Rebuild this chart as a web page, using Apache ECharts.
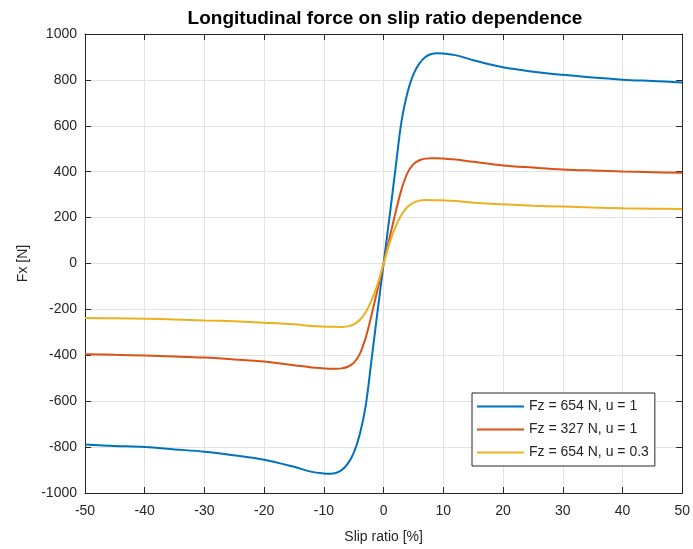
<!DOCTYPE html>
<html>
<head>
<meta charset="utf-8">
<script src="https://cdn.jsdelivr.net/npm/echarts@6/dist/echarts.min.js"></script>
<style>
  html, body { margin: 0; padding: 0; background: #fff; overflow: hidden; }
  #chart { width: 693px; height: 549px; }
</style>
</head>
<body>
<div id="chart"></div>
<script>
// Slip ratio samples [%]
const slip = [-50, -45, -40, -35, -30, -25, -20, -15, -12, -10, -9, -8, -7, -6, -5, -4, -3, -2, -1,
  0, 1, 2, 3, 4, 5, 6, 7, 8, 9, 10, 12, 15, 20, 25, 30, 35, 40, 45, 50];

// Longitudinal force Fx [N] for each load / friction case
const fxFz654u1 = [-789, -795, -800, -810, -820, -836, -855, -886, -908, -915, -916, -913, -900, -872, -825, -745, -620, -415, -205,
  0, 205, 415, 620, 745, 825, 872, 900, 913, 916, 915, 908, 886, 855, 836, 822, 810, 801, 795, 789];
const fxFz327u1 = [-395, -398, -401, -405, -410, -418, -427, -443, -453, -457, -459, -459, -457, -450, -433, -395, -323, -222, -112,
  0, 112, 222, 323, 395, 433, 450, 457, 459, 459, 457, 453, 443, 427, 418, 410, 405, 401, 398, 395];
const fxFz654u03 = [-237, -239, -241, -244, -248, -252, -258, -265, -272, -275, -276, -276, -277, -274, -265, -246, -212, -160, -90,
  0, 90, 160, 212, 246, 265, 274, 277, 276, 276, 275, 272, 265, 258, 252, 248, 244, 241, 239, 237];

const seriesNames = ['Fz = 654 N, u = 1', 'Fz = 327 N, u = 1', 'Fz = 654 N, u = 0.3'];
const seriesColors = ['#0072BD', '#D95319', '#EDB120'];
const seriesValues = [fxFz654u1, fxFz327u1, fxFz654u03];

const xTicks = { min: -50, max: 50, interval: 10 };
const yTicks = { min: -1000, max: 1000, interval: 200 };

const axisColor = '#262626';
const gridColor = '#e3e3e3';
const font = '"Liberation Sans", Arial, Helvetica, sans-serif';

function pairs(values) {
  return slip.map((s, i) => [s, values[i]]);
}

function baseAxis(extra) {
  return Object.assign({
    type: 'value',
    axisLine: { show: true, onZero: false, lineStyle: { color: axisColor, width: 1 } },
    axisTick: { show: true, inside: true, length: 6, lineStyle: { color: axisColor } },
    splitLine: { show: false },
    axisLabel: { show: false }
  }, extra);
}

const chart = echarts.init(document.getElementById('chart'), null, { renderer: 'canvas' });

chart.setOption({
  animation: false,
  backgroundColor: '#ffffff',
  title: {
    text: 'Longitudinal force on slip ratio dependence',
    left: 385,
    textAlign: 'center',
    top: 9,
    padding: 0,
    textStyle: { fontFamily: font, fontSize: 19, fontWeight: 'bold', color: '#000' }
  },
  grid: { left: 85, right: 8, top: 34, bottom: 53, containLabel: false },
  legend: {
    orient: 'vertical',
    left: 472,
    top: 393,
    padding: [6, 6, 6, 5],
    itemWidth: 47,
    itemHeight: 2,
    itemGap: 8,
    icon: 'rect',
    backgroundColor: '#ffffff',
    borderColor: axisColor,
    borderWidth: 1,
    borderRadius: 0,
    textStyle: { fontFamily: font, fontSize: 14, color: axisColor, lineHeight: 15 },
    data: seriesNames
  },
  xAxis: [
    baseAxis({
      min: xTicks.min, max: xTicks.max, interval: xTicks.interval,
      position: 'bottom',
      name: 'Slip ratio [%]',
      nameLocation: 'middle',
      nameGap: 37,
      nameTextStyle: { fontFamily: font, fontSize: 14, color: axisColor },
      splitLine: { show: true, lineStyle: { color: gridColor, width: 1 } },
      axisLabel: { show: true, fontFamily: font, fontSize: 14, color: axisColor, margin: 11,
        formatter: v => String(v) }
    }),
    baseAxis({ min: xTicks.min, max: xTicks.max, interval: xTicks.interval, position: 'top' })
  ],
  yAxis: [
    baseAxis({
      min: yTicks.min, max: yTicks.max, interval: yTicks.interval,
      position: 'left',
      name: 'Fx [N]',
      nameLocation: 'middle',
      nameGap: 50,
      nameTextStyle: { fontFamily: font, fontSize: 14, color: axisColor },
      splitLine: { show: true, lineStyle: { color: gridColor, width: 1 } },
      axisLabel: { show: true, fontFamily: font, fontSize: 14, color: axisColor, margin: 8,
        formatter: v => String(v) }
    }),
    baseAxis({ min: yTicks.min, max: yTicks.max, interval: yTicks.interval, position: 'right' })
  ],
  series: seriesNames.map((name, i) => ({
    name: name,
    type: 'line',
    xAxisIndex: 0,
    yAxisIndex: 0,
    data: pairs(seriesValues[i]),
    smooth: 0.35,
    showSymbol: false,
    symbol: 'none',
    color: seriesColors[i],
    lineStyle: { color: seriesColors[i], width: 2 }
  }))
});
</script>
</body>
</html>
